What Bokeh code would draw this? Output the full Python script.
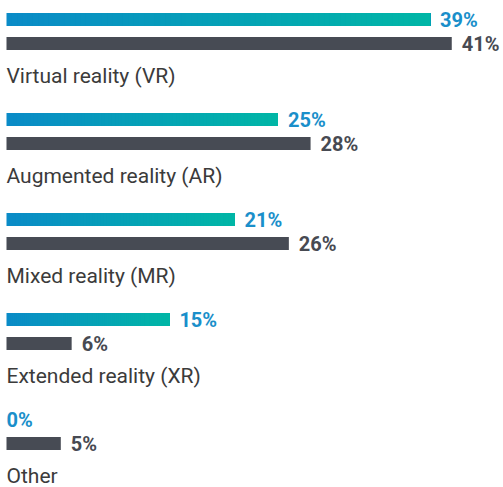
from bokeh.plotting import figure
from bokeh.models import ColumnDataSource, Range1d
from bokeh.core.properties import value
from bokeh.embed import file_html
from bokeh.resources import INLINE

categories = ["Virtual reality (VR)", "Augmented reality (AR)", "Mixed reality (MR)",
              "Extended reality (XR)", "Other"]
series_a = [39, 25, 21, 15, 0]   # gradient bars
series_b = [41, 28, 26, 6, 5]    # dark bars

GRAD_START = (10, 139, 199)
GRAD_END = (0, 182, 166)
DARK = "#474b54"
BLUE_TXT = "#1a8fca"
DARK_TXT = "#474a52"
CAT_TXT = "#3b3b3b"

W, H = 503, 487
PX_PER_UNIT = 10.86
X0 = 6
GROUP_STEP = 100
TOP0, BOT0, LAB0 = 19, 43, 75
BAR_H = 13

p = figure(width=W, height=H, output_backend="svg", toolbar_location=None,
           x_range=Range1d(-X0 / PX_PER_UNIT, (W - X0) / PX_PER_UNIT),
           y_range=Range1d(H, 0),
           min_border=0, outline_line_color=None)
p.axis.visible = False
p.grid.visible = False

# gradient bars: overlapping slices, each drawn from its start to the bar end
N = 80
left, right, top, bottom, colors = [], [], [], [], []
for i, v in enumerate(series_a):
    if v <= 0:
        continue
    yc = TOP0 + GROUP_STEP * i
    for j in range(N):
        t = j / (N - 1)
        c = tuple(int(round(a + (b - a) * t)) for a, b in zip(GRAD_START, GRAD_END))
        left.append(v * j / N)
        right.append(v)
        top.append(yc - BAR_H / 2)
        bottom.append(yc + BAR_H / 2)
        colors.append("#%02x%02x%02x" % c)
gsrc = ColumnDataSource(dict(left=left, right=right, top=top, bottom=bottom, color=colors))
p.quad(left="left", right="right", top="top", bottom="bottom", source=gsrc,
       fill_color="color", line_color=None)

bsrc = ColumnDataSource(dict(
    y=[BOT0 + GROUP_STEP * i for i in range(len(series_b))],
    right=series_b))
p.hbar(y="y", left=0, right="right", height=BAR_H, source=bsrc,
       fill_color=DARK, line_color=None)

# value labels
asrc = ColumnDataSource(dict(
    x=series_a, y=[TOP0 + GROUP_STEP * i for i in range(len(series_a))],
    t=[f"{v}%" for v in series_a],
    off=[10 if v > 0 else 0 for v in series_a]))
p.text(x="x", y="y", text="t", x_offset="off", source=asrc, text_font=value("Roboto"),
       text_font_style="bold", text_font_size="20px", text_color=BLUE_TXT,
       text_baseline="middle", text_align="left")
b2src = ColumnDataSource(dict(
    x=series_b, y=[BOT0 + GROUP_STEP * i for i in range(len(series_b))],
    t=[f"{v}%" for v in series_b],
    off=[10 if v > 0 else 0 for v in series_b]))
p.text(x="x", y="y", text="t", x_offset="off", source=b2src, text_font=value("Roboto"),
       text_font_style="bold", text_font_size="20px", text_color=DARK_TXT,
       text_baseline="middle", text_align="left")

csrc = ColumnDataSource(dict(
    x=[0] * len(categories), y=[LAB0 + GROUP_STEP * i for i in range(len(categories))],
    t=categories))
p.text(x="x", y="y", text="t", source=csrc, text_font=value("Roboto"),
       text_font_size="21px", text_color=CAT_TXT,
       text_baseline="middle", text_align="left")

open("out.html", "w").write(file_html(p, INLINE))
